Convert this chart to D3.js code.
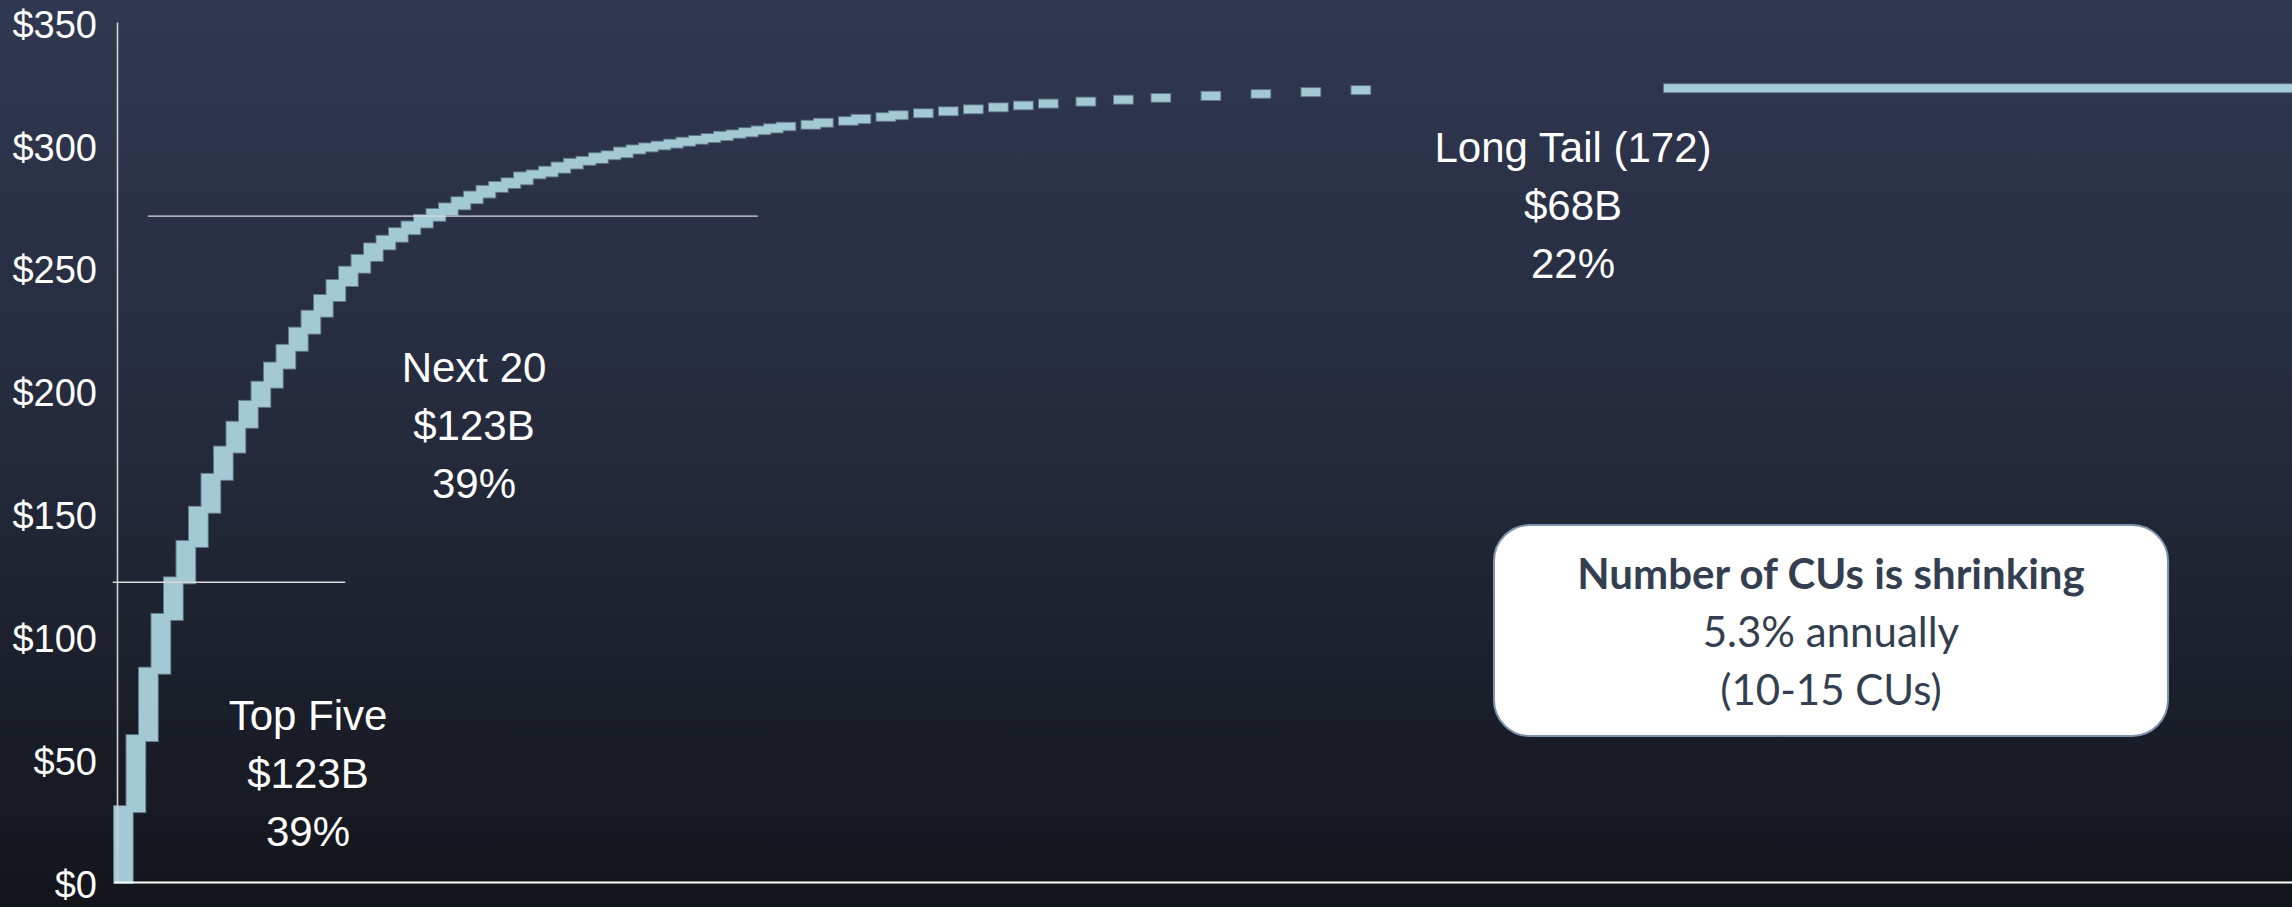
<!DOCTYPE html>
<html>
<head>
<meta charset="utf-8">
<script src="https://cdn.jsdelivr.net/npm/d3@7"></script>
<style>
  html, body { margin: 0; padding: 0; background: #13151c; overflow: hidden; }
  svg { display: block; }
</style>
</head>
<body>
<div id="chart"></div>
<script>
// rank of every CU whose step shows (the ones in between round to a $0B step)
const cuRank = [
  0, 1, 2, 3, 4, 5, 6, 7, 8, 9,
  10, 11, 12, 13, 14, 15, 16, 17, 18, 19,
  20, 21, 22, 23, 24, 25, 26, 27, 28, 29,
  30, 31, 32, 33, 34, 35, 36, 37, 38, 39,
  40, 41, 42, 43, 44, 45, 46, 47, 48, 49,
  50, 51, 52, 53, 55, 56, 58, 59, 61, 62,
  64, 66, 68, 70, 72, 74, 77, 80, 83, 87,
  91, 95, 99, 124
];

// cumulative assets ($B) once that CU is added
const cumulativeAssets = [
  30.9, 59.8, 87.2, 109.1, 124.0, 138.8, 152.7, 166.1, 177.2, 187.3,
  195.8, 203.6, 211.4, 218.6, 225.6, 232.5, 238.9, 245.0, 250.4, 255.2,
  259.9, 263.0, 266.1, 268.8, 271.5, 273.9, 276.2, 278.7, 281.0, 283.3,
  284.9, 286.4, 288.8, 289.6, 291.1, 292.8, 294.3, 295.1, 296.6, 297.4,
  298.9, 299.8, 300.6, 301.3, 302.1, 302.9, 303.6, 304.4, 305.3, 305.9,
  306.8, 307.5, 308.4, 309.0, 309.8, 310.6, 311.3, 312.2, 312.9, 313.7,
  314.5, 315.3, 316.1, 316.9, 317.6, 318.4, 319.2, 320.0, 320.7, 321.6,
  322.3, 323.1, 323.9, 324.7
];

// the last step runs flat out to this rank
const tailEndRank = 176;

const yTicks = [0, 50, 100, 150, 200, 250, 300, 350];

// cut-off levels ($B) between the groups, and the ranks each guide spans
const cutLevels = [122, 271];
const cutFromRank = [-0.1, 2.7];
const cutToRank = [18.5, 51.5];

const groupNames = ['Top Five', 'Next 20', 'Long Tail (172)'];
const groupAssets = ['$123B', '$123B', '$68B'];
const groupShares = ['39%', '39%', '22%'];

const noteLines = ['Number of CUs is shrinking', '5.3% annually', '(10-15 CUs)'];

const width = 2292;
const height = 907;
const axisX = 117;

const svg = d3.select('#chart')
  .append('svg')
  .attr('width', width)
  .attr('height', height);

// background gradient
const defs = svg.append('defs');
const grad = defs.append('linearGradient')
  .attr('id', 'bg')
  .attr('x1', 0).attr('y1', 0).attr('x2', 0).attr('y2', 1);
grad.append('stop').attr('offset', '0%').attr('stop-color', '#303851');
grad.append('stop').attr('offset', '50%').attr('stop-color', '#242a3b');
grad.append('stop').attr('offset', '100%').attr('stop-color', '#13151b');

svg.append('rect')
  .attr('width', width)
  .attr('height', height)
  .attr('fill', 'url(#bg)');

// Scales
const x = d3.scaleLinear()
  .domain([0, 174.24])
  .range([114, width]);

const y = d3.scaleLinear()
  .domain([0, 350])
  .range([882, 22]);

const steps = cuRank.map((r, i) => ({
  rank: r,
  value: cumulativeAssets[i],
  prev: i === 0 ? 0 : cumulativeAssets[i - 1],
  last: i === cuRank.length - 1
}));

const barWidth = 1.5;  // in rank units
const overlap = 6;     // px each step reaches below the previous level

const stepX = d => x(d.rank);
const stepW = d => (d.last ? x(tailEndRank) : x(d.rank + barWidth)) - x(d.rank);
const stepY = d => y(d.value);
const stepH = d => {
  const bottom = d.prev === 0 ? y(0) + 1 : y(d.prev) + overlap;
  return bottom - y(d.value);
};

// outline layer first, fills on top, so only the outer edge shows
svg.append('g')
  .selectAll('rect')
  .data(steps)
  .enter()
  .append('rect')
  .attr('x', stepX)
  .attr('y', stepY)
  .attr('width', stepW)
  .attr('height', stepH)
  .attr('fill', 'none')
  .attr('stroke', '#61788a')
  .attr('stroke-width', 2);

svg.append('g')
  .selectAll('rect')
  .data(steps)
  .enter()
  .append('rect')
  .attr('x', stepX)
  .attr('y', stepY)
  .attr('width', stepW)
  .attr('height', stepH)
  .attr('fill', '#a3c9d4');

// group cut-off guides
svg.append('g')
  .selectAll('line')
  .data(cutLevels)
  .enter()
  .append('line')
  .attr('x1', (d, i) => x(cutFromRank[i]))
  .attr('x2', (d, i) => x(cutToRank[i]))
  .attr('y1', d => y(d))
  .attr('y2', d => y(d))
  .attr('stroke', '#d9d9d9')
  .attr('stroke-width', 1.3);

// Axes
const yAxis = svg.append('g')
  .attr('transform', `translate(${axisX},0)`)
  .call(d3.axisLeft(y)
    .tickValues(yTicks)
    .tickSize(0)
    .tickPadding(20)
    .tickFormat(d => '$' + d));

yAxis.select('.domain')
  .attr('stroke', '#d0d0d0')
  .attr('stroke-width', 1.6);

yAxis.selectAll('text')
  .attr('dy', '0.4em')
  .attr('fill', '#ffffff')
  .style('font-family', '"Liberation Sans", Arial, sans-serif')
  .style('font-size', '38px');

const xAxis = svg.append('g')
  .attr('transform', `translate(0,${y(0)})`)
  .call(d3.axisBottom(x).tickValues([]).tickSizeOuter(0));

xAxis.select('.domain')
  .attr('stroke', '#ffffff')
  .attr('stroke-width', 2);

// group labels
const labelAt = [[308, 730], [474, 382], [1573, 162]];
const lineGap = 58;

groupNames.forEach((name, i) => {
  const t = svg.append('text')
    .attr('x', labelAt[i][0])
    .attr('y', labelAt[i][1])
    .attr('text-anchor', 'middle')
    .attr('fill', '#ffffff')
    .style('font-family', '"Liberation Sans", Arial, sans-serif')
    .style('font-size', '42px');
  [name, groupAssets[i], groupShares[i]].forEach((s, j) => {
    t.append('tspan')
      .attr('x', labelAt[i][0])
      .attr('y', labelAt[i][1] + j * lineGap)
      .text(s);
  });
});

// note box
const box = { x: 1494, y: 525, w: 674, h: 211 };
svg.append('rect')
  .attr('x', box.x)
  .attr('y', box.y)
  .attr('width', box.w)
  .attr('height', box.h)
  .attr('rx', 36)
  .attr('fill', '#ffffff')
  .attr('stroke', '#7f95ae')
  .attr('stroke-width', 2);

noteLines.forEach((s, j) => {
  svg.append('text')
    .attr('x', box.x + box.w / 2)
    .attr('y', 589 + j * 58)
    .attr('text-anchor', 'middle')
    .attr('fill', '#333f50')
    .style('font-family', 'Lato, "Open Sans", sans-serif')
    .style('font-weight', j === 0 ? 700 : 400)
    .style('font-size', '42px')
    .text(s);
});
</script>
</body>
</html>
